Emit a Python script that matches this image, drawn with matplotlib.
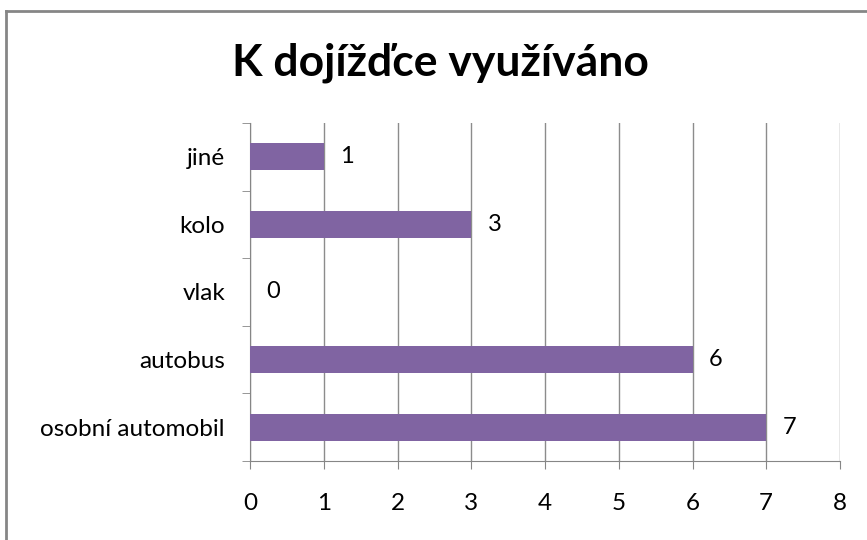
import matplotlib.pyplot as plt
from matplotlib.lines import Line2D

categories = ["osobní automobil", "autobus", "vlak", "kolo", "jiné"]
values = [7, 6, 0, 3, 1]
x_ticks = [0, 1, 2, 3, 4, 5, 6, 7, 8]

plt.rcParams['font.family'] = ['Lato', 'DejaVu Sans']

fig = plt.figure(figsize=(8.67, 5.4), dpi=100)
ax = fig.add_axes([250 / 867, 1 - 461 / 540, 590 / 867, 338 / 540])

ypos = range(len(categories))
ax.barh(ypos, values, height=0.4, color='#8064A2', zorder=3)

for y, v in zip(ypos, values):
    ax.text(v + 0.22, y, str(v), va='center', ha='left', fontsize=17, color='black')

ax.set_xlim(0, 8)
ax.set_ylim(-0.5, len(categories) - 0.5)
ax.set_xticks(x_ticks)
ax.set_yticks(ypos)
ax.set_yticklabels(categories)
# category boundary ticks
ax.set_yticks([i - 0.5 for i in range(len(categories) + 1)], minor=True)
ax.tick_params(axis='y', which='major', length=0, pad=18, labelsize=17.5)
ax.tick_params(axis='y', which='minor', length=6, color='#868686')
ax.tick_params(axis='x', length=6, color='#868686', pad=17, labelsize=17.5)

ax.grid(axis='x', color='#8c8c8c', linewidth=1, zorder=0)
for s in ['top', 'right']:
    ax.spines[s].set_visible(False)
for s in ['left', 'bottom']:
    ax.spines[s].set_color('#868686')

fig.text(0.508, 1 - 63 / 540, "K dojížďce využíváno", ha='center', va='center',
         fontsize=32, fontweight='bold')

# chart area border (top and left visible)
fig.add_artist(Line2D([6 / 867, 6 / 867], [0, 1 - 11 / 540], transform=fig.transFigure,
                      color='#868686', linewidth=2))
fig.add_artist(Line2D([6 / 867, 1], [1 - 11 / 540, 1 - 11 / 540], transform=fig.transFigure,
                      color='#868686', linewidth=2))

fig.savefig('out.png', dpi=100)
